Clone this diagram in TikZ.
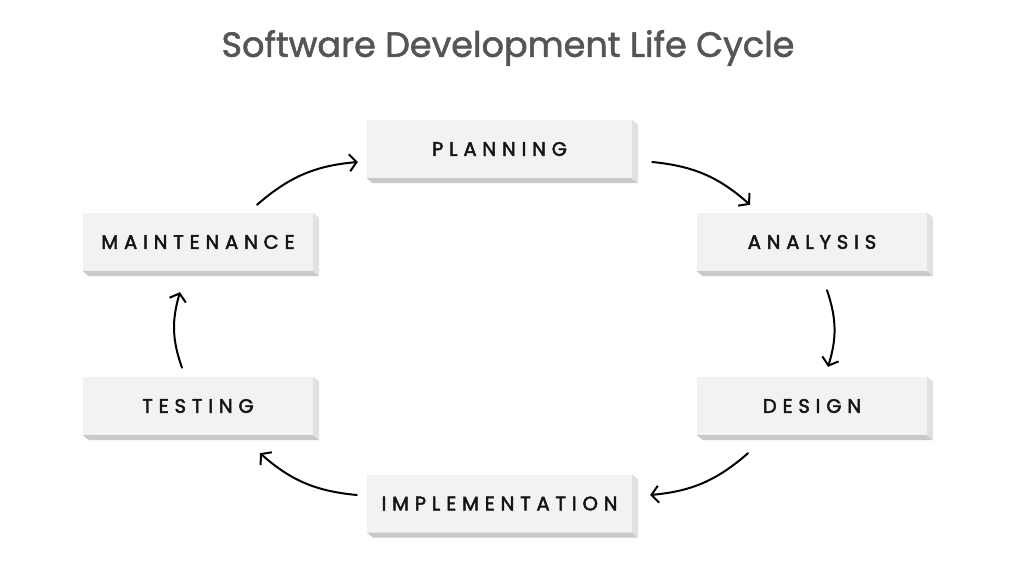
\documentclass[tikz,border=0pt]{standalone}
\usepackage{fontspec}
\setmainfont{Poppins}
\newfontfamily\titlefont[FakeBold=1.6]{Poppins}
\newfontfamily\labelfont[FakeBold=2.4, LetterSpace=30]{Poppins}
\usetikzlibrary{arrows.meta,calc}
\definecolor{frontc}{HTML}{F2F2F2}
\definecolor{sidec}{HTML}{E1E1E3}
\definecolor{bottomc}{HTML}{C9C9C9}
\definecolor{titlec}{HTML}{555555}
\definecolor{labelc}{HTML}{141414}
\tikzset{
  stage/.style={fill=frontc, draw=none, inner sep=0pt, text=labelc,
    font={\labelfont\fontsize{19.5}{22}\selectfont}},
  wide/.style={minimum width=265pt, minimum height=58pt},
  narrow/.style={minimum width=230pt, minimum height=58pt},
  flow/.style={draw=black, line width=2pt, line cap=round,
    -{Straight Barb[length=7pt,width=17pt,line width=2pt]}, bend left=18},
  sideface/.style={fill=sidec, draw=none},
  bottomface/.style={fill=bottomc, draw=none},
}
\newcommand{\blockdepth}[1]{%
  \fill[bottomface] (#1.south west) -- (#1.south east) -- ([shift={(6,5)}]#1.south east) -- ([shift={(6,5)}]#1.south west) -- cycle;
  \fill[sideface] (#1.north east) -- ([shift={(6,5)}]#1.north east) -- ([shift={(6,5)}]#1.south east) -- (#1.south east) -- cycle;
}
\begin{document}
\begin{tikzpicture}[x=1pt, y=-1pt]
\useasboundingbox[fill=white] (0,0) rectangle (1024,585);
\node[text=titlec, font={\titlefont\fontsize{35}{40}\selectfont}] (title) at (508,48) {Software Development Life Cycle};

\node[stage, wide] (plan) at (499.5,149) {PLANNING};
\node[stage, narrow] (anal) at (812,242) {ANALYSIS};
\node[stage, narrow] (des) at (812,406) {DESIGN};
\node[stage, wide] (impl) at (499.5,503.5) {IMPLEMENTATION};
\node[stage, narrow] (test) at (198,406) {TESTING};
\node[stage, narrow] (maint) at (198,242) {MAINTENANCE};

\blockdepth{plan}
\blockdepth{anal}
\blockdepth{des}
\blockdepth{impl}
\blockdepth{test}
\blockdepth{maint}

\draw[flow] ([shift={(20,13)}]plan.east) to ([shift={(-62,-8)}]anal.north);
\draw[flow] ([shift={(15,19)}]anal.south) to ([shift={(16,-10)}]des.north);
\draw[flow] ([shift={(-64,18)}]des.south) to ([shift={(18,-8.5)}]impl.east);
\draw[flow] ([shift={(-10,-8.5)}]impl.west) to ([shift={(62,18)}]test.south);
\draw[flow] ([shift={(-16,-9)}]test.north) to ([shift={(-18,21)}]maint.south);
\draw[flow] ([shift={(59,-8)}]maint.north) to ([shift={(-9,13)}]plan.west);
\end{tikzpicture}
\end{document}
